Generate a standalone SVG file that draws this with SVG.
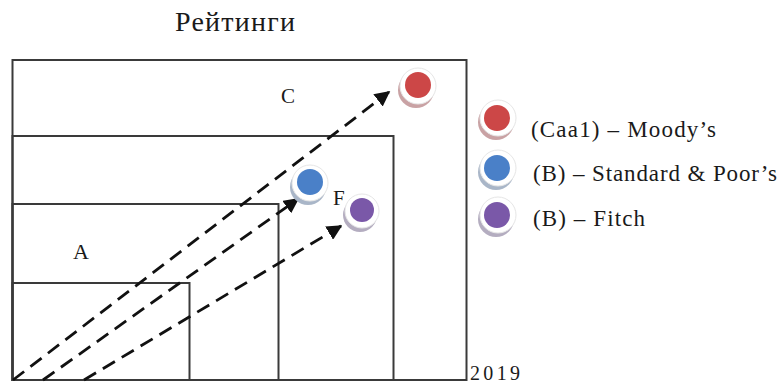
<svg xmlns="http://www.w3.org/2000/svg" width="782" height="385" viewBox="0 0 782 385">
  <defs>
    <style>
      .box { fill: none; stroke: #3a3a3a; stroke-width: 2; }
      .lbl { font-family: "Liberation Serif", "Times New Roman", serif; fill: #1a1a1a; }
      .arrow { fill: none; stroke: #111; stroke-width: 2.8; stroke-dasharray: 14 8; }
      .ring { fill: #ffffff; stroke: #e6e6e6; stroke-width: 1; }
    </style>
    <marker id="ah" viewBox="0 0 10 10" refX="9" refY="5" markerWidth="5.5" markerHeight="5.5" orient="auto" markerUnits="strokeWidth">
      <path d="M0,0 L10,5 L0,10 Z" fill="#111"/>
    </marker>
  </defs>
  <rect width="782" height="385" fill="#ffffff"/>

  <g id="title">
    <text class="lbl" x="175" y="31" font-size="28" textLength="120" lengthAdjust="spacing">Рейтинги</text>
  </g>

  <g id="node-C">
    <rect class="box" x="12.5" y="60" width="454" height="320"/>
    <text class="lbl" x="281" y="103" font-size="21">C</text>
  </g>
  <g id="node-F">
    <rect class="box" x="12.5" y="136" width="381" height="244"/>
    <text class="lbl" x="333" y="205" font-size="21">F</text>
  </g>
  <g id="node-A">
    <rect class="box" x="12.5" y="204" width="266" height="176"/>
    <text class="lbl" x="73" y="259" font-size="22">A</text>
  </g>
  <g id="node-inner">
    <rect class="box" x="12.5" y="283" width="177" height="97"/>
  </g>

  <g id="connectors">
    <line class="arrow" x1="13" y1="380" x2="389" y2="92" marker-end="url(#ah)"/>
    <line class="arrow" x1="43" y1="380" x2="298" y2="199" marker-end="url(#ah)"/>
    <line class="arrow" x1="84" y1="380" x2="341" y2="226" marker-end="url(#ah)"/>
  </g>

  <g id="moody-point">
    <circle cx="416" cy="90" r="18" fill="#c9a2a4"/>
    <circle class="ring" cx="418" cy="86" r="18"/>
    <circle cx="418" cy="85" r="13" fill="#cc4747"/>
  </g>
  <g id="sp-point">
    <circle cx="308" cy="187" r="18" fill="#a9b6c8"/>
    <circle class="ring" cx="310" cy="183" r="18"/>
    <circle cx="310" cy="182" r="13" fill="#4a80c8"/>
  </g>
  <g id="fitch-point">
    <circle cx="360" cy="215" r="17" fill="#b4adc0"/>
    <circle class="ring" cx="362" cy="211" r="17"/>
    <circle cx="362" cy="210" r="12" fill="#7a58a8"/>
  </g>

  <g id="legend-moody">
    <circle cx="496" cy="122" r="18" fill="#c9a2a4"/>
    <circle class="ring" cx="498" cy="118" r="18"/>
    <circle cx="497" cy="118" r="13" fill="#cc4747"/>
    <text class="lbl" x="531" y="137" font-size="23" textLength="185" lengthAdjust="spacing">(Caa1) – Moody’s</text>
  </g>
  <g id="legend-sp">
    <circle cx="496" cy="172" r="18" fill="#a9b6c8"/>
    <circle class="ring" cx="498" cy="168" r="18"/>
    <circle cx="497" cy="168" r="13" fill="#4a80c8"/>
    <text class="lbl" x="533" y="181" font-size="23" textLength="244" lengthAdjust="spacing">(B) – Standard &amp; Poor’s</text>
  </g>
  <g id="legend-fitch">
    <circle cx="496" cy="219" r="18" fill="#b4adc0"/>
    <circle class="ring" cx="498" cy="215" r="18"/>
    <circle cx="497" cy="215" r="13" fill="#7a58a8"/>
    <text class="lbl" x="533" y="226" font-size="23" textLength="112" lengthAdjust="spacing">(B) – Fitch</text>
  </g>

  <g id="year">
    <text class="lbl" x="470" y="380" font-size="20" textLength="50" lengthAdjust="spacing">2019</text>
  </g>
</svg>
